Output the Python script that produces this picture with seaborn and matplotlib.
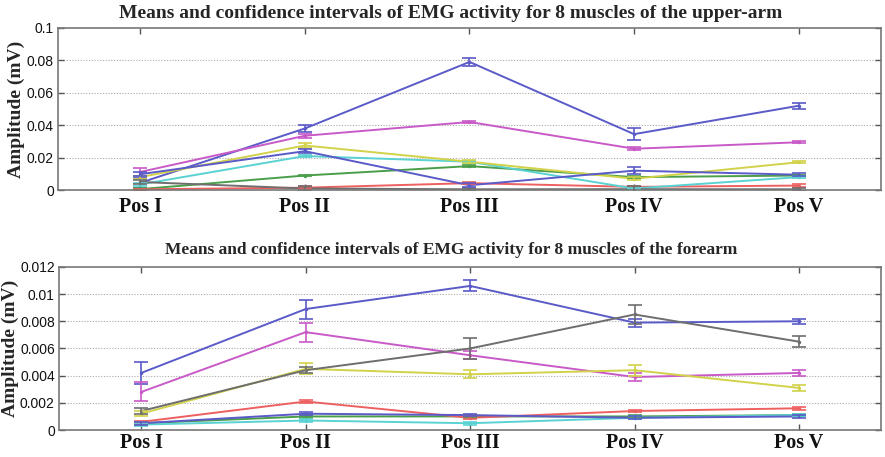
import numpy as np
import pandas as pd
import matplotlib
matplotlib.use("Agg")
import matplotlib.pyplot as plt
import seaborn as sns

positions = ["Pos I", "Pos II", "Pos III", "Pos IV", "Pos V"]
muscles = ["M1", "M2", "M3", "M4", "M5", "M6", "M7", "M8"]

# Upper-arm muscles: means (mV)
upper_m1 = [0.0045, 0.0380, 0.0790, 0.0345, 0.0520]
upper_m2 = [0.0006, 0.0090, 0.0148, 0.0080, 0.0090]
upper_m3 = [0.0005, 0.0015, 0.0043, 0.0020, 0.0028]
upper_m4 = [0.0035, 0.0210, 0.0175, 0.0010, 0.0080]
upper_m5 = [0.0112, 0.0335, 0.0420, 0.0255, 0.0295]
upper_m6 = [0.0080, 0.0275, 0.0175, 0.0070, 0.0172]
upper_m7 = [0.0050, 0.0010, 0.0005, 0.0006, 0.0005]
upper_m8 = [0.0098, 0.0240, 0.0030, 0.0120, 0.0095]
# Upper-arm confidence half-widths (mV)
upper_ci_m1 = [0.0030, 0.0020, 0.0022, 0.0035, 0.0018]
upper_ci_m2 = [0.0005, 0.0005, 0.0008, 0.0008, 0.0006]
upper_ci_m3 = [0.0004, 0.0010, 0.0008, 0.0008, 0.0010]
upper_ci_m4 = [0.0008, 0.0006, 0.0006, 0.0006, 0.0008]
upper_ci_m5 = [0.0022, 0.0012, 0.0006, 0.0010, 0.0006]
upper_ci_m6 = [0.0010, 0.0014, 0.0010, 0.0008, 0.0006]
upper_ci_m7 = [0.0015, 0.0015, 0.0010, 0.0020, 0.0010]
upper_ci_m8 = [0.0012, 0.0012, 0.0012, 0.0020, 0.0010]

# Forearm muscles: means (mV)
fore_m1 = [0.0042, 0.0089, 0.0106, 0.0079, 0.0080]
fore_m2 = [0.0005, 0.0010, 0.0010, 0.0010, 0.0011]
fore_m3 = [0.0006, 0.0021, 0.0009, 0.0014, 0.0016]
fore_m4 = [0.0004, 0.0007, 0.0005, 0.0009, 0.0011]
fore_m5 = [0.0028, 0.0072, 0.0055, 0.0039, 0.0042]
fore_m6 = [0.0012, 0.0045, 0.0041, 0.0044, 0.0031]
fore_m7 = [0.0014, 0.0044, 0.0060, 0.0085, 0.0065]
fore_m8 = [0.0005, 0.0012, 0.0011, 0.0009, 0.0010]
# Forearm confidence half-widths (mV)
fore_ci_m1 = [0.0008, 0.0007, 0.0004, 0.0003, 0.0002]
fore_ci_m2 = [0.0001, 0.0001, 0.0001, 0.0001, 0.0001]
fore_ci_m3 = [0.0001, 0.0001, 0.0001, 0.0001, 0.0001]
fore_ci_m4 = [0.0001, 0.0001, 0.0001, 0.0001, 0.0001]
fore_ci_m5 = [0.0007, 0.0007, 0.0003, 0.0003, 0.0002]
fore_ci_m6 = [0.0002, 0.0004, 0.0003, 0.0004, 0.0002]
fore_ci_m7 = [0.0002, 0.0002, 0.0008, 0.0007, 0.0004]
fore_ci_m8 = [0.0001, 0.0001, 0.0001, 0.0001, 0.0001]

palette = ["#5a5ac8", "#4a9e4a", "#ee6060", "#5ad2d2",
           "#c85ac8", "#d2d24a", "#6e6e6e", "#5a5ac8"]

upper_means = [upper_m1, upper_m2, upper_m3, upper_m4, upper_m5, upper_m6, upper_m7, upper_m8]
upper_cis = [upper_ci_m1, upper_ci_m2, upper_ci_m3, upper_ci_m4, upper_ci_m5, upper_ci_m6, upper_ci_m7, upper_ci_m8]
fore_means = [fore_m1, fore_m2, fore_m3, fore_m4, fore_m5, fore_m6, fore_m7, fore_m8]
fore_cis = [fore_ci_m1, fore_ci_m2, fore_ci_m3, fore_ci_m4, fore_ci_m5, fore_ci_m6, fore_ci_m7, fore_ci_m8]


def to_frame(means, cis):
    rows = []
    for name, m, c in zip(muscles, means, cis):
        for i, (pos, v, e) in enumerate(zip(positions, m, c)):
            rows.append({"muscle": name, "x": i + 1, "pos": pos, "mean": v, "ci": e})
    return pd.DataFrame(rows)


sns.set_theme(style="white")
plt.rcParams["font.family"] = ["Liberation Sans", "DejaVu Sans"]

fig = plt.figure(figsize=(8.85, 4.57), dpi=100)
ax_up = fig.add_axes([0.0655, 0.584, 0.930, 0.355])
ax_lo = fig.add_axes([0.0667, 0.059, 0.929, 0.357])

serif = ["Liberation Serif", "DejaVu Serif"]


def draw(ax, df, ymax, yticks, yticklabels, title, title_size, title_pad, xpad):
    sns.lineplot(data=df, x="x", y="mean", hue="muscle", palette=palette,
                 marker="o", markersize=2.5, markeredgewidth=0, linewidth=1.4,
                 legend=False, ax=ax, errorbar=None, sort=False)
    for k, name in enumerate(muscles):
        sub = df[df["muscle"] == name]
        ax.errorbar(sub["x"], sub["mean"], yerr=sub["ci"], fmt="none",
                    ecolor=palette[k], elinewidth=1.2, capsize=5, capthick=1.2)
    ax.set_xlim(0.5, 5.5)
    ax.set_ylim(0, ymax)
    ax.set_xticks(range(1, 6))
    ax.set_xticklabels(positions, fontfamily=serif, fontweight="bold", fontsize=14.5)
    ax.set_yticks(yticks)
    ax.set_yticklabels(yticklabels, fontsize=10)
    ax.set_xlabel("")
    ax.set_ylabel("Amplitude (mV)", fontfamily=serif, fontweight="bold", fontsize=14, labelpad=1)
    ax.set_title(title, fontfamily=serif, fontweight="bold", fontsize=title_size,
                 pad=title_pad, x=0.477)
    for y in yticks[1:-1]:
        ax.axhline(y, color="#aaaaaa", linestyle=(0, (1, 1.5)), linewidth=0.8, zorder=0)
    for s in ax.spines.values():
        s.set_color("#777777")
        s.set_linewidth(1.2)
    ax.tick_params(axis="both", direction="in", length=4, width=1, color="#555555",
                   top=True, right=True, bottom=True, left=True, pad=3, labelcolor="#111111")
    ax.tick_params(axis="x", pad=xpad)


draw(ax_up, to_frame(upper_means, upper_cis), 0.1,
     [0, 0.02, 0.04, 0.06, 0.08, 0.1], ["0", "0.02", "0.04", "0.06", "0.08", "0.1"],
     "Means and confidence intervals of EMG activity for 8 muscles of the upper-arm",
     14, 7, 5)
draw(ax_lo, to_frame(fore_means, fore_cis), 0.012,
     [0, 0.002, 0.004, 0.006, 0.008, 0.01, 0.012],
     ["0", "0.002", "0.004", "0.006", "0.008", "0.01", "0.012"],
     "Means and confidence intervals of EMG activity for 8 muscles of the forearm",
     12.5, 9, 2)

fig.savefig("out.png", dpi=100)
